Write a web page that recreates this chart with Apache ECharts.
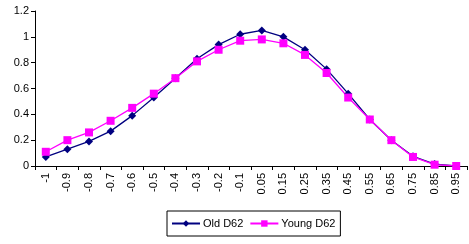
<!DOCTYPE html>
<html>
<head>
<meta charset="utf-8">
<script src="https://cdn.jsdelivr.net/npm/echarts@6/dist/echarts.min.js"></script>
<style>
  html, body { margin: 0; padding: 0; background: #fff; }
  #chart { width: 469px; height: 244px; }
</style>
</head>
<body>
<div id="chart"></div>
<script>
// categories along x
const categories = ['-1', '-0.9', '-0.8', '-0.7', '-0.6', '-0.5', '-0.4', '-0.3', '-0.2', '-0.1',
  '0.05', '0.15', '0.25', '0.35', '0.45', '0.55', '0.65', '0.75', '0.85', '0.95'];

const oldD62 = [0.07, 0.13, 0.19, 0.27, 0.39, 0.53, 0.68, 0.83, 0.94, 1.02,
  1.05, 1.0, 0.9, 0.75, 0.56, 0.36, 0.2, 0.075, 0.015, 0];
const youngD62 = [0.11, 0.2, 0.26, 0.35, 0.45, 0.56, 0.68, 0.81, 0.9, 0.97,
  0.98, 0.95, 0.86, 0.72, 0.53, 0.36, 0.2, 0.07, 0.01, 0];

const chart = echarts.init(document.getElementById('chart'));

const font = 'Liberation Sans, Arial, sans-serif';

chart.setOption({
  animation: false,
  grid: { left: 35, top: 11, right: 2, bottom: 78, containLabel: false },
  xAxis: {
    type: 'category',
    data: categories,
    boundaryGap: true,
    axisLine: { lineStyle: { color: '#000', width: 1 } },
    axisTick: { show: true, alignWithLabel: false, length: 4, lineStyle: { color: '#000' } },
    axisLabel: {
      rotate: 90, color: '#000', fontFamily: font, fontSize: 11, margin: 7, interval: 0
    },
    splitLine: { show: false }
  },
  yAxis: {
    type: 'value',
    min: 0, max: 1.2, interval: 0.2,
    axisLine: { show: true, lineStyle: { color: '#000', width: 1 } },
    axisTick: { show: true, length: 4, lineStyle: { color: '#000' } },
    axisLabel: {
      color: '#000', fontFamily: font, fontSize: 11, margin: 6,
      formatter: v => String(Math.round(v * 10) / 10)
    },
    splitLine: { show: false }
  },
  legend: {
    left: 167, top: 211,
    padding: [7, 5, 7, 4],
    itemGap: 6,
    itemWidth: 28, itemHeight: 8,
    borderColor: '#000', borderWidth: 1,
    textStyle: { fontFamily: font, fontSize: 11, color: '#000', padding: [0, 0, 0, -2] },
    data: ['Old D62', 'Young D62']
  },
  series: [
    {
      name: 'Old D62',
      type: 'line',
      data: oldD62,
      symbol: 'diamond',
      symbolSize: 8,
      itemStyle: { color: '#000080' },
      lineStyle: { color: '#000080', width: 1.3 }
    },
    {
      name: 'Young D62',
      type: 'line',
      data: youngD62,
      symbol: 'rect',
      symbolSize: 8,
      itemStyle: { color: '#FF00FF' },
      lineStyle: { color: '#FF00FF', width: 1.3 }
    }
  ]
});
</script>
</body>
</html>
